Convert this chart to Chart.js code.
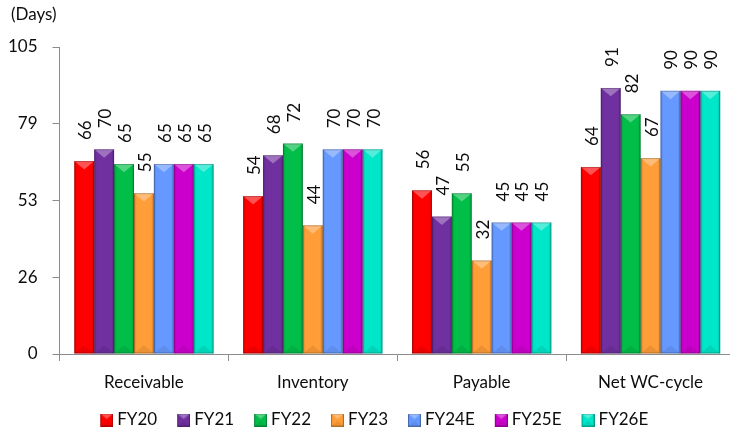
<!DOCTYPE html>
<html>
<head>
<meta charset="utf-8">
<script src="https://cdn.jsdelivr.net/npm/chart.js@4/dist/chart.umd.min.js"></script>
<style>
  html, body { margin: 0; padding: 0; background: #ffffff; overflow: hidden; }
  #wrap { width: 730px; height: 433px; overflow: hidden; }
  #c { display: block; }
</style>
</head>
<body>
<div id="wrap"><canvas id="c" width="740" height="433"></canvas></div>
<script>
// Working-capital days by component, FY20 to FY26E
const categories = ['Receivable', 'Inventory', 'Payable', 'Net WC-cycle'];
const years = ['FY20', 'FY21', 'FY22', 'FY23', 'FY24E', 'FY25E', 'FY26E'];
const fy20  = [66, 54, 56, 64];
const fy21  = [70, 68, 47, 91];
const fy22  = [65, 72, 55, 82];
const fy23  = [55, 44, 32, 67];
const fy24e = [65, 70, 45, 90];
const fy25e = [65, 70, 45, 90];
const fy26e = [65, 70, 45, 90];
const yTickLabels = [0, 26, 53, 79, 105];
const unitLabel = '(Days)';

const series = [fy20, fy21, fy22, fy23, fy24e, fy25e, fy26e];
const palette = ['#FF0000', '#7030A0', '#00BE48', '#FF9D38', '#6699FF', '#CC00CC', '#00E6C8'];

const FONT = 'Lato, "Open Sans", sans-serif';
const TEXT = '#0d0d0d';
const AXIS = '#8c8c8c';

// Bevelled bar facets: light top wedge, darker base wedge and edges
function paintBevel(ctx, l, t, w, h) {
  const r = l + w, b = t + h, cx = l + w / 2;
  const d = Math.min(w * 0.42, h / 2);
  const g = ctx.createLinearGradient(l, 0, r, 0);
  g.addColorStop(0, 'rgba(0,0,0,0.16)');
  g.addColorStop(0.14, 'rgba(0,0,0,0)');
  g.addColorStop(0.86, 'rgba(0,0,0,0)');
  g.addColorStop(1, 'rgba(0,0,0,0.18)');
  ctx.fillStyle = g;
  ctx.fillRect(l, t, w, h);
  ctx.fillStyle = 'rgba(255,255,255,0.32)';
  ctx.beginPath(); ctx.moveTo(l, t); ctx.lineTo(r, t); ctx.lineTo(cx, t + d); ctx.closePath(); ctx.fill();
  ctx.fillStyle = 'rgba(0,0,0,0.08)';
  ctx.beginPath(); ctx.moveTo(l, b); ctx.lineTo(r, b); ctx.lineTo(cx, b - d); ctx.closePath(); ctx.fill();
  ctx.strokeStyle = 'rgba(0,0,0,0.22)';
  ctx.lineWidth = 1;
  ctx.strokeRect(l + 0.5, t + 0.5, w - 1, h - 1);
}

// Legend swatches: 13px bevelled square sitting at the right of a 22px image,
// so the gap to the label text stays small
const swatches = palette.map(col => {
  const cv = document.createElement('canvas');
  cv.width = 22; cv.height = 13;
  const c = cv.getContext('2d');
  c.fillStyle = col;
  c.fillRect(9, 0, 13, 13);
  paintBevel(c, 9, 0, 13, 13);
  return cv;
});

const bevelPlugin = {
  id: 'bevel',
  afterDatasetsDraw(chart) {
    const ctx = chart.ctx;
    chart.data.datasets.forEach((ds, di) => {
      chart.getDatasetMeta(di).data.forEach(bar => {
        const p = bar.getProps(['x', 'y', 'base', 'width'], true);
        const t = Math.min(p.y, p.base), b = Math.max(p.y, p.base);
        ctx.save();
        paintBevel(ctx, p.x - p.width / 2, t, p.width, b - t);
        ctx.restore();
      });
    });
  }
};

const valueLabelPlugin = {
  id: 'valueLabels',
  afterDatasetsDraw(chart) {
    const ctx = chart.ctx;
    ctx.save();
    ctx.font = '17px ' + FONT;
    ctx.fillStyle = TEXT;
    ctx.textAlign = 'left';
    ctx.textBaseline = 'alphabetic';
    chart.data.datasets.forEach((ds, di) => {
      chart.getDatasetMeta(di).data.forEach((bar, i) => {
        ctx.save();
        ctx.translate(bar.x + 7, bar.y - 21);
        ctx.rotate(-Math.PI / 2);
        ctx.fillText(String(ds.data[i]), 0, 0);
        ctx.restore();
      });
    });
    ctx.restore();
  }
};

// Unit caption and legend placement under the axis
const framePlugin = {
  id: 'frame',
  afterLayout(chart) {
    const lg = chart.legend;
    if (lg) {
      lg.top = 396;
      lg.bottom = 433;
      lg.left = 9;
      lg.right = 735;
    }
  },
  afterDraw(chart) {
    const ctx = chart.ctx;
    ctx.save();
    ctx.font = '17px ' + FONT;
    ctx.fillStyle = TEXT;
    ctx.textAlign = 'left';
    ctx.textBaseline = 'middle';
    ctx.fillText(unitLabel, 11, 15);
    ctx.restore();
  }
};

function draw() {
  new Chart(document.getElementById('c'), {
    type: 'bar',
    data: {
      labels: categories,
      datasets: years.map((y, i) => ({
        label: y,
        data: series[i],
        backgroundColor: palette[i],
        borderWidth: 0,
        categoryPercentage: 0.825,
        barPercentage: 1
      }))
    },
    options: {
      responsive: false,
      animation: false,
      devicePixelRatio: 1,
      layout: { padding: { top: 47, left: 0, right: 5, bottom: 0 } },
      plugins: {
        tooltip: { enabled: false },
        title: { display: false },
        legend: {
          position: 'bottom',
          align: 'center',
          maxHeight: 37,
          labels: {
            usePointStyle: true,
            boxWidth: 13,
            boxHeight: 13,
            padding: 15.5,
            color: TEXT,
            font: { family: FONT, size: 17 },
            generateLabels(chart) {
              const items = Chart.defaults.plugins.legend.labels.generateLabels(chart);
              items.forEach((it, i) => { it.pointStyle = swatches[i]; });
              return items;
            }
          }
        }
      },
      scales: {
        x: {
          offset: true,
          grid: { display: true, offset: true, drawOnChartArea: false, drawTicks: true, tickLength: 7, color: AXIS },
          border: { display: true, color: AXIS, width: 1 },
          ticks: { color: TEXT, font: { family: FONT, size: 17 }, padding: 11, maxRotation: 0 },
          afterFit(scale) { scale.height = 42; }
        },
        y: {
          min: 0,
          max: 105,
          grid: { display: true, drawOnChartArea: false, drawTicks: true, tickLength: 7, color: AXIS },
          border: { display: true, color: AXIS, width: 1 },
          ticks: {
            stepSize: 26.25,
            padding: 15,
            color: TEXT,
            font: { family: FONT, size: 17 },
            callback: (v, i) => yTickLabels[i]
          },
          afterFit(scale) { scale.width = 59.5; }
        }
      }
    },
    plugins: [bevelPlugin, valueLabelPlugin, framePlugin]
  });
}

if (document.fonts && document.fonts.load) {
  document.fonts.load('17px Lato').then(draw, draw);
} else {
  draw();
}
</script>
</body>
</html>
